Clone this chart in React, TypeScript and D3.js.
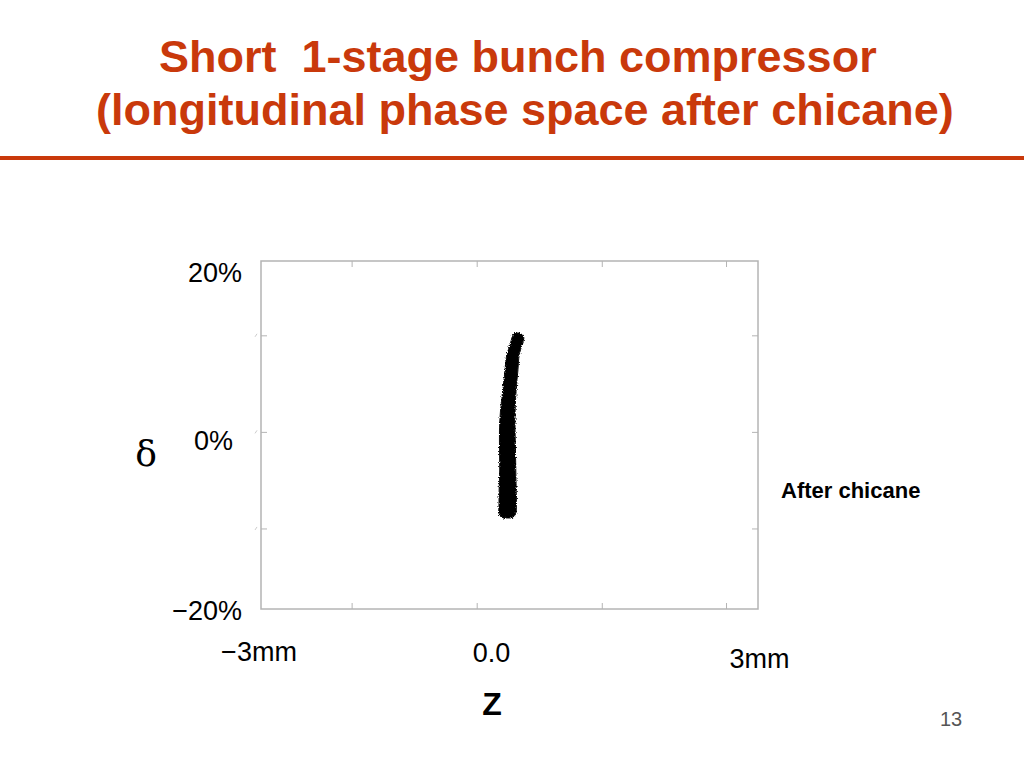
import { useEffect, useRef } from "react";
import * as d3 from "d3";

// beam core: energy spread (%), centre z (mm), half width (mm)
const bandDelta = [11.72, 11.26, 10.34, 9.19, 7.47, 5.17, 2.87, 0.57, -1.72, -4.02, -6.32, -8.05, -9.08, -9.54];
const bandZ = [0.09, 0.102, 0.078, 0.042, 0.024, 0.0, -0.02, -0.027, -0.024, -0.021, -0.022, -0.022, -0.026, -0.03];
const bandHalf = [0.035, 0.07, 0.072, 0.075, 0.078, 0.08, 0.088, 0.094, 0.096, 0.097, 0.103, 0.105, 0.1, 0.06];

const xTicks = [-1.9, -0.39, 1.12, 2.62];
const yTicks = [-10.8, 0.3, 11.4];
const yLabels = ["20%", "0%", "\u221220%"];
const yLabelValues = [20, 0, -20];
const xLabels = ["\u22123mm", "0.0", "3mm"];
const xLabelValues = [-3, 0, 3];

const W = 1024;
const H = 768;
const ORANGE = "#c9390b";

export default function App() {
  const ref = useRef<SVGSVGElement | null>(null);

  useEffect(() => {
    const svg = d3.select(ref.current!);
    svg.selectAll("*").remove();
    svg.attr("viewBox", `0 0 ${W} ${H}`);

    svg.append("rect").attr("width", W).attr("height", H).attr("fill", "#fff");

    const defs = svg.append("defs");
    const f = defs.append("filter").attr("id", "fuzz").attr("x", "-50%").attr("y", "-10%").attr("width", "200%").attr("height", "120%");
    f.append("feTurbulence").attr("type", "fractalNoise").attr("baseFrequency", 0.9).attr("numOctaves", 2).attr("seed", 3).attr("result", "n");
    f.append("feDisplacementMap").attr("in", "SourceGraphic").attr("in2", "n").attr("scale", 4).attr("xChannelSelector", "R").attr("yChannelSelector", "G").attr("result", "d");
    f.append("feGaussianBlur").attr("in", "d").attr("stdDeviation", 0.5);

    // title
    const title = svg.append("g").style("font", "bold 45px 'Liberation Sans', Arial, sans-serif").attr("fill", ORANGE);
    title.append("text").attr("x", 159).attr("y", 72).text("Short\u00a0 1-stage bunch compressor");
    title.append("text").attr("x", 96).attr("y", 125).text("(longitudinal phase space after chicane)");
    svg.append("rect").attr("x", 0).attr("y", 156).attr("width", W).attr("height", 4).attr("fill", ORANGE);

    const left = 261, right = 758, top = 261, bottom = 609;
    const x = d3.scaleLinear().domain([-3, 3]).range([left, right]);
    const y = d3.scaleLinear().domain([-20, 20]).range([bottom, top]);

    // frame + inward ticks
    const frame = svg.append("g").attr("stroke", "#b4b4b4").attr("fill", "none");
    frame.append("rect").attr("x", left).attr("y", top).attr("width", right - left).attr("height", bottom - top).attr("stroke-width", 1.5);
    xTicks.forEach((t) => {
      frame.append("line").attr("x1", x(t)).attr("x2", x(t)).attr("y1", bottom).attr("y2", bottom - 6);
      frame.append("line").attr("x1", x(t)).attr("x2", x(t)).attr("y1", top).attr("y2", top + 6);
    });
    yTicks.forEach((t) => {
      frame.append("line").attr("x1", left).attr("x2", left + 6).attr("y1", y(t)).attr("y2", y(t));
      frame.append("line").attr("x1", right).attr("x2", right - 6).attr("y1", y(t)).attr("y2", y(t));
      frame.append("line").attr("x1", left - 6).attr("x2", left - 4).attr("y1", y(t) + 1).attr("y2", y(t) - 2).attr("stroke", "#ccc");
    });

    // beam
    const pts = bandDelta.map((d, i) => ({ d, z: bandZ[i], h: bandHalf[i] }));
    const area = d3
      .area<{ d: number; z: number; h: number }>()
      .y((p) => y(p.d))
      .x0((p) => x(p.z - p.h))
      .x1((p) => x(p.z + p.h))
      .curve(d3.curveCatmullRom);
    svg.append("path").attr("d", area(pts)!).attr("fill", "#000").attr("stroke", "#111").attr("stroke-width", 1).attr("filter", "url(#fuzz)");

    // tick labels
    const lab = svg.append("g").style("font", "27px 'Liberation Sans', Arial, sans-serif").attr("fill", "#000");
    const yNudge = [21, 15, 11];
    const yRight = [242, 233, 242];
    yLabels.forEach((s, i) => {
      lab.append("text").attr("x", yRight[i]).attr("y", y(yLabelValues[i]) + yNudge[i]).attr("text-anchor", "end").text(s);
    });
    const xNudge = [-2, -18, 1.5];
    const xBase = [661, 662, 668];
    xLabels.forEach((s, i) => {
      lab.append("text").attr("x", x(xLabelValues[i]) + xNudge[i]).attr("y", xBase[i]).attr("text-anchor", "middle").text(s);
    });

    // axis names
    svg.append("text").attr("x", 146).attr("y", 466).attr("text-anchor", "middle")
      .style("font", "36px 'DejaVu Serif', 'Liberation Serif', serif").text("\u03b4");
    svg.append("text").attr("x", 492).attr("y", 715).attr("text-anchor", "middle")
      .style("font", "bold 32px 'Liberation Sans', Arial, sans-serif").text("Z");

    svg.append("text").attr("x", 781).attr("y", 498)
      .style("font", "bold 22px 'Liberation Sans', Arial, sans-serif").text("After chicane");

    svg.append("text").attr("x", 951).attr("y", 726).attr("text-anchor", "middle").attr("fill", "#555")
      .style("font", "20px 'Liberation Sans', Arial, sans-serif").text("13");
  }, []);

  return (
    <div style={{ position: "absolute", left: 0, top: 0, width: W, height: H }}>
      <svg ref={ref} width={W} height={H} style={{ display: "block" }} />
    </div>
  );
}
